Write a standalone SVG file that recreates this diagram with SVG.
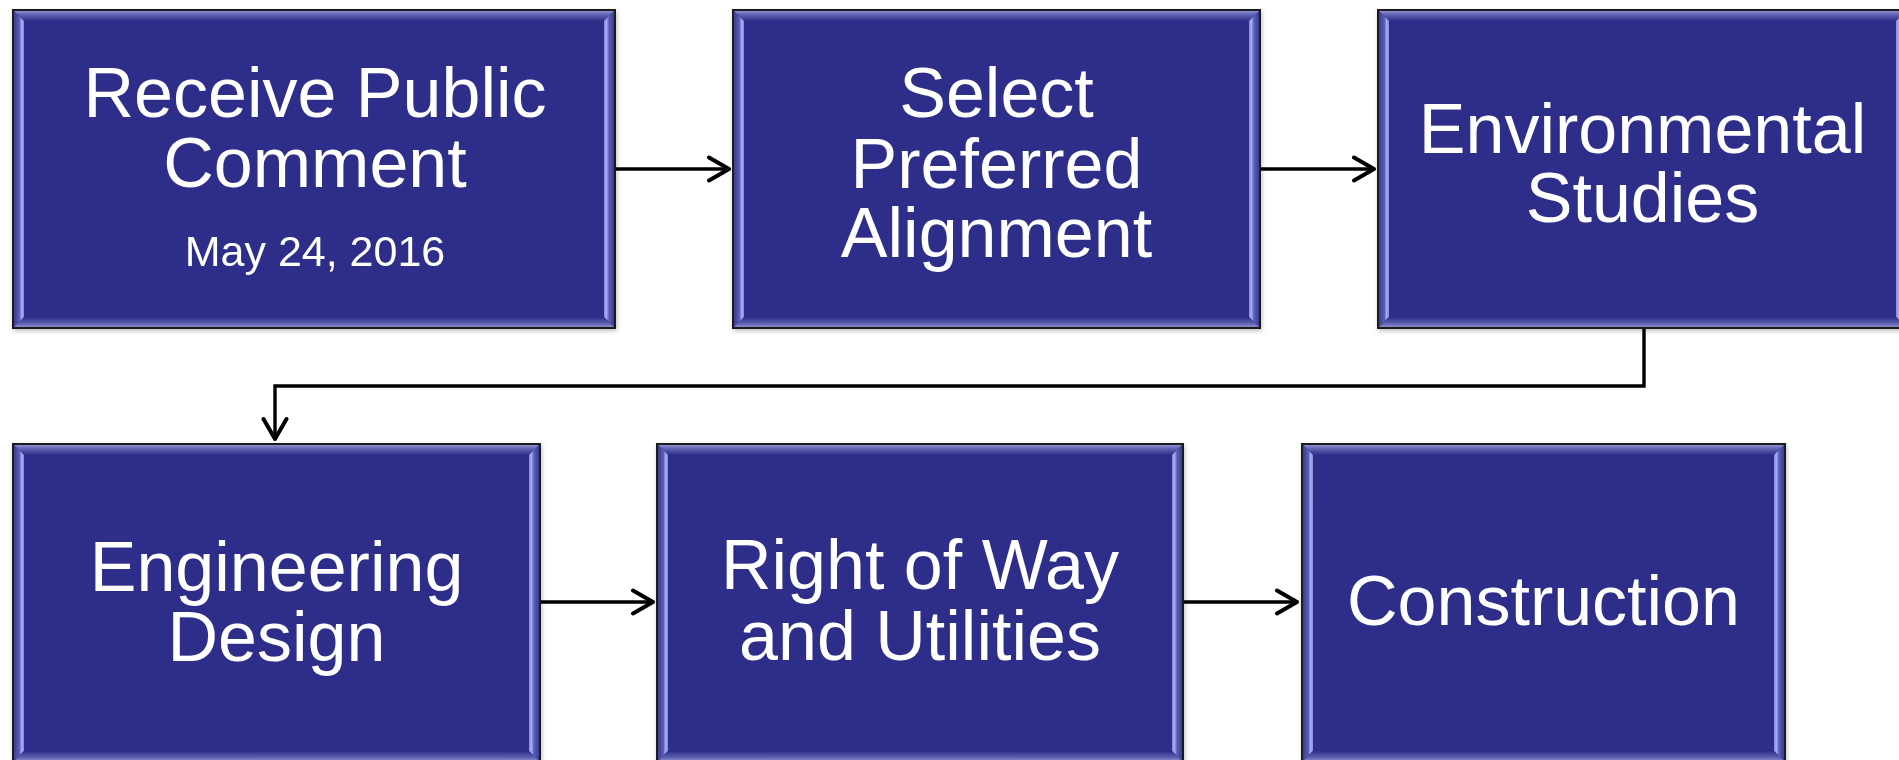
<svg xmlns="http://www.w3.org/2000/svg" width="1899" height="760" viewBox="0 0 1899 760">
<style>
.base{fill:#2E2E8A;stroke:#1a1a1a;stroke-width:2}
.t{fill:url(#gT)}
.l{fill:url(#gL)}
.r{fill:url(#gR)}
.b{fill:url(#gB)}
.lbl{font-family:"Liberation Sans",Arial,sans-serif;font-size:70px;fill:#ffffff;text-anchor:middle}
.sub{font-size:43px}
.conn{fill:none;stroke:#000;stroke-width:3.4;marker-end:url(#arr)}
</style>
<defs>
<linearGradient id="gT" x1="0" y1="0" x2="0" y2="1"><stop offset="0" stop-color="#8c8ed0"/><stop offset="0.4" stop-color="#5e60b0"/><stop offset="1" stop-color="#2E2E8A"/></linearGradient>
<linearGradient id="gB" x1="0" y1="0" x2="0" y2="1"><stop offset="0" stop-color="#2E2E8A"/><stop offset="0.6" stop-color="#5a5cad"/><stop offset="1" stop-color="#8a8cd2"/></linearGradient>
<linearGradient id="gL" x1="0" y1="0" x2="1" y2="0"><stop offset="0" stop-color="#3a3c96"/><stop offset="0.55" stop-color="#5c5eb2"/><stop offset="0.75" stop-color="#a6a9f4"/><stop offset="1" stop-color="#8a8ce0"/></linearGradient>
<linearGradient id="gR" x1="0" y1="0" x2="1" y2="0"><stop offset="0" stop-color="#8a8ce0"/><stop offset="0.25" stop-color="#a6a9f4"/><stop offset="0.5" stop-color="#5c5eb2"/><stop offset="1" stop-color="#3a3c96"/></linearGradient>
<filter id="sh" x="-5%" y="-5%" width="110%" height="110%"><feDropShadow dx="1" dy="2" stdDeviation="2" flood-color="#000" flood-opacity="0.25"/></filter>
<marker id="arr" viewBox="0 0 26 28" refX="23" refY="14" markerWidth="26" markerHeight="28" markerUnits="userSpaceOnUse" orient="auto"><path d="M3,2.5 L23,14 L3,25.5" fill="none" stroke="#000" stroke-width="4" stroke-linecap="round" stroke-linejoin="round"/></marker>
</defs>
<rect width="1899" height="760" fill="#ffffff"/>
<g id="connectors">
<path class="conn" d="M615,169 L729,169"/>
<path class="conn" d="M1260,169 L1374,169"/>
<path class="conn" d="M1644,328 L1644,386 L275,386 L275,439"/>
<path class="conn" d="M540,602 L653,602"/>
<path class="conn" d="M1183,602 L1297,602"/>
</g>
<g id="n1" filter="url(#sh)">
<rect class="base" x="13" y="10" width="602" height="318"/>
<polygon class="t" points="14,11 614,11 604,21 24,21"/>
<polygon class="l" points="14,11 24,21 24,317 14,327"/>
<polygon class="r" points="614,11 614,327 604,317 604,21"/>
<polygon class="b" points="14,327 24,317 604,317 614,327"/>
<text class="lbl" x="315" y="117">Receive Public</text>
<text class="lbl" x="315" y="187">Comment</text>
<text class="lbl sub" x="315" y="266">May 24, 2016</text>
</g>
<g id="n2" filter="url(#sh)">
<rect class="base" x="733" y="10" width="527" height="318"/>
<polygon class="t" points="734,11 1259,11 1249,21 744,21"/>
<polygon class="l" points="734,11 744,21 744,317 734,327"/>
<polygon class="r" points="1259,11 1259,327 1249,317 1249,21"/>
<polygon class="b" points="734,327 744,317 1249,317 1259,327"/>
<text class="lbl" x="996.5" y="117">Select</text>
<text class="lbl" x="996.5" y="188">Preferred</text>
<text class="lbl" x="996.5" y="257">Alignment</text>
</g>
<g id="n3" filter="url(#sh)">
<rect class="base" x="1378" y="10" width="529" height="318"/>
<polygon class="t" points="1379,11 1906,11 1896,21 1389,21"/>
<polygon class="l" points="1379,11 1389,21 1389,317 1379,327"/>
<polygon class="r" points="1906,11 1906,327 1896,317 1896,21"/>
<polygon class="b" points="1379,327 1389,317 1896,317 1906,327"/>
<text class="lbl" x="1642.5" y="153">Environmental</text>
<text class="lbl" x="1642.5" y="222">Studies</text>
</g>
<g id="n4" filter="url(#sh)">
<rect class="base" x="13" y="444" width="527" height="318"/>
<polygon class="t" points="14,445 539,445 529,455 24,455"/>
<polygon class="l" points="14,445 24,455 24,751 14,761"/>
<polygon class="r" points="539,445 539,761 529,751 529,455"/>
<polygon class="b" points="14,761 24,751 529,751 539,761"/>
<text class="lbl" x="276.5" y="591">Engineering</text>
<text class="lbl" x="276.5" y="661">Design</text>
</g>
<g id="n5" filter="url(#sh)">
<rect class="base" x="657" y="444" width="526" height="318"/>
<polygon class="t" points="658,445 1182,445 1172,455 668,455"/>
<polygon class="l" points="658,445 668,455 668,751 658,761"/>
<polygon class="r" points="1182,445 1182,761 1172,751 1172,455"/>
<polygon class="b" points="658,761 668,751 1172,751 1182,761"/>
<text class="lbl" x="920" y="589">Right of Way</text>
<text class="lbl" x="920" y="660">and Utilities</text>
</g>
<g id="n6" filter="url(#sh)">
<rect class="base" x="1302" y="444" width="483" height="318"/>
<polygon class="t" points="1303,445 1784,445 1774,455 1313,455"/>
<polygon class="l" points="1303,445 1313,455 1313,751 1303,761"/>
<polygon class="r" points="1784,445 1784,761 1774,751 1774,455"/>
<polygon class="b" points="1303,761 1313,751 1774,751 1784,761"/>
<text class="lbl" x="1543.5" y="625">Construction</text>
</g>
</svg>
